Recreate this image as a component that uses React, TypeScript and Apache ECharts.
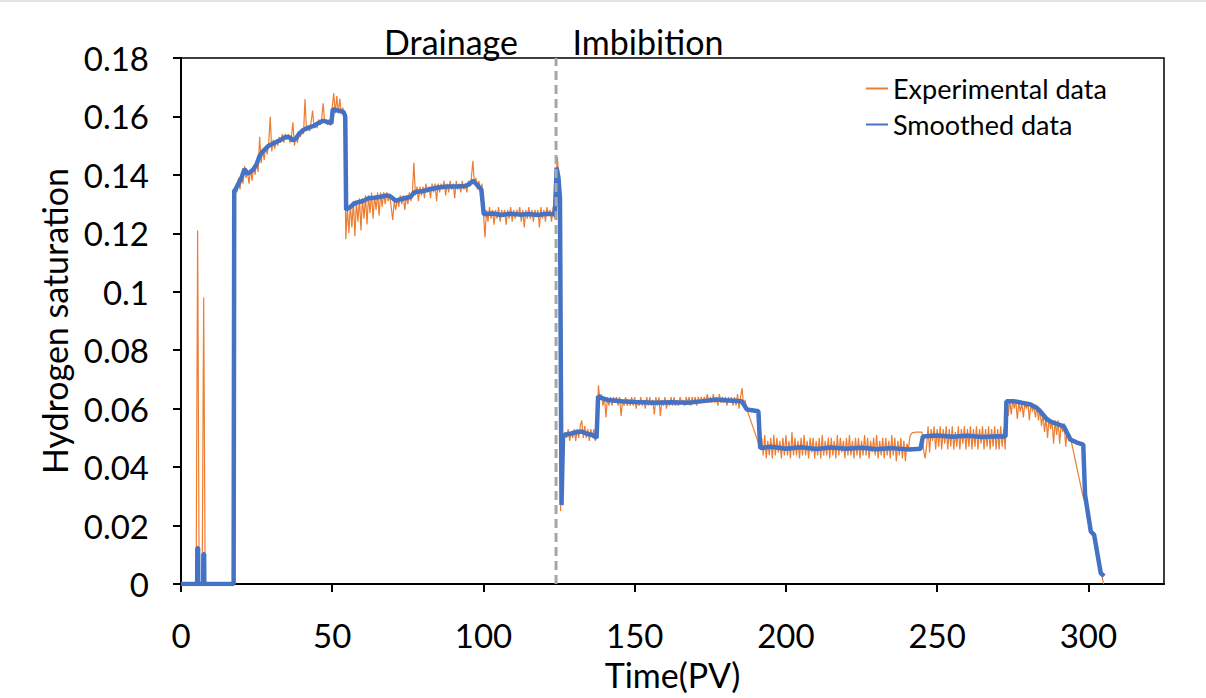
import React, { useEffect, useRef } from "react";
import * as echarts from "echarts";

// ---- Data (Time in PV, hydrogen saturation) ----
const X_STEP = 0.5; // sampling step of the experimental record (PV)
const xTicks = [0, 50, 100, 150, 200, 250, 300];
const yTicks = [0, 0.02, 0.04, 0.06, 0.08, 0.1, 0.12, 0.14, 0.16, 0.18];
const drainageEnd = 124;

// Experimental data, segment by segment: start time + samples every X_STEP
const expStart = 0;
const expStartValues = [0, 0, 0, 0, 0, 0, 0, 0, 0, 0, 0, 0.121, 0, 0, 0, 0.098, 0, 0, 0, 0, 0, 0, 0, 0, 0, 0, 0, 0, 0, 0, 0, 0, 0, 0, 0, 0];
const expDrainRiseStart = 18;
const expDrainRise = [
  0.136, 0.134, 0.139, 0.135, 0.14, 0.137, 0.143, 0.139, 0.141, 0.137,
  0.142, 0.138, 0.143, 0.14, 0.145, 0.141, 0.153, 0.144, 0.149, 0.145,
  0.15, 0.147, 0.151, 0.16, 0.148, 0.152, 0.149, 0.152, 0.15, 0.153,
  0.151, 0.154, 0.151, 0.154, 0.152, 0.154, 0.151, 0.153, 0.158, 0.15,
  0.153, 0.151, 0.155, 0.153, 0.156, 0.154, 0.166, 0.155, 0.157, 0.155,
  0.158, 0.162, 0.156, 0.158, 0.156, 0.159, 0.157, 0.159, 0.1645, 0.158,
  0.159, 0.157, 0.159, 0.157, 0.163, 0.168, 0.161, 0.167, 0.161, 0.166,
  0.161, 0.163, 0.16,
];
const expDrainMidStart = 54.5;
const expDrainMid = [
  0.118, 0.129, 0.12, 0.13, 0.122, 0.131, 0.119, 0.131, 0.124, 0.132,
  0.121, 0.132, 0.125, 0.133, 0.123, 0.133, 0.127, 0.134, 0.125, 0.133,
  0.128, 0.134, 0.126, 0.134, 0.129, 0.134, 0.13, 0.134, 0.131, 0.133,
  0.129, 0.1245, 0.131, 0.128, 0.132, 0.129, 0.133, 0.13, 0.133, 0.128,
  0.133, 0.13, 0.134, 0.131, 0.134, 0.1442, 0.133, 0.136, 0.131, 0.136,
  0.133, 0.136, 0.132, 0.137, 0.134, 0.136, 0.132, 0.137, 0.134, 0.137,
  0.131, 0.137, 0.134, 0.137, 0.135, 0.138, 0.133, 0.137, 0.134, 0.138,
  0.135, 0.137, 0.132, 0.138, 0.135, 0.137, 0.134, 0.138, 0.135, 0.137,
  0.134, 0.138, 0.136, 0.139, 0.1448, 0.137, 0.139, 0.135, 0.138, 0.134,
  0.137,
];
const expDrainLowStart = 100;
const expDrainLow = [
  0.127, 0.1186, 0.128, 0.124, 0.129, 0.125, 0.128, 0.123, 0.128, 0.125,
  0.129, 0.124, 0.128, 0.126, 0.128, 0.123, 0.128, 0.125, 0.129, 0.124,
  0.128, 0.125, 0.128, 0.126, 0.129, 0.124, 0.128, 0.122, 0.128, 0.125,
  0.129, 0.125, 0.128, 0.124, 0.128, 0.126, 0.128, 0.122, 0.129, 0.125,
  0.128, 0.124, 0.129, 0.126, 0.128, 0.124, 0.129, 0.125, 0.14, 0.146,
  0.134, 0.025, 0.05,
];
const expImbAStart = 126.5;
const expImbA = [
  0.049, 0.052, 0.05, 0.053, 0.049, 0.052, 0.05, 0.053, 0.049, 0.053,
  0.05, 0.054, 0.056, 0.05, 0.054, 0.05, 0.053, 0.049, 0.053, 0.05,
  0.053, 0.049, 0.051,
];
const expImbBStart = 138;
const expImbB = [
  0.068, 0.063, 0.065, 0.061, 0.064, 0.057, 0.064, 0.061, 0.064, 0.061,
  0.064, 0.062, 0.064, 0.061, 0.064, 0.0575, 0.063, 0.061, 0.064, 0.061,
  0.063, 0.061, 0.064, 0.061, 0.064, 0.06, 0.063, 0.061, 0.064, 0.061,
  0.063, 0.06, 0.064, 0.061, 0.064, 0.061, 0.063, 0.058, 0.064, 0.061,
  0.064, 0.0575, 0.063, 0.061, 0.064, 0.06, 0.063, 0.061, 0.064, 0.061,
  0.064, 0.061, 0.063, 0.061, 0.064, 0.062, 0.063, 0.061, 0.064, 0.062,
  0.064, 0.061, 0.064, 0.062, 0.064, 0.061, 0.064, 0.062, 0.064, 0.062,
  0.064, 0.062, 0.065, 0.062, 0.064, 0.062, 0.065, 0.062, 0.064, 0.061,
  0.065, 0.062, 0.064, 0.062, 0.064, 0.061, 0.064, 0.062, 0.064, 0.061,
  0.064, 0.061, 0.065, 0.06, 0.064, 0.067, 0.061, 0.063, 0.06,
];
const expImbCStart = 191.5;
const expImbC = [
  0.0465, 0.05, 0.044, 0.051, 0.043, 0.049, 0.044, 0.05, 0.043, 0.051,
  0.044, 0.05, 0.045, 0.049, 0.043, 0.05, 0.044, 0.051, 0.044, 0.049,
  0.043, 0.052, 0.044, 0.05, 0.044, 0.049, 0.043, 0.05, 0.044, 0.051,
  0.044, 0.049, 0.043, 0.05, 0.045, 0.05, 0.043, 0.049, 0.044, 0.05,
  0.043, 0.051, 0.044, 0.049, 0.044, 0.05, 0.043, 0.05, 0.044, 0.049,
  0.043, 0.051, 0.044, 0.05, 0.045, 0.049, 0.043, 0.05, 0.044, 0.051,
  0.044, 0.049, 0.043, 0.05, 0.044, 0.05, 0.043, 0.049, 0.044, 0.051,
  0.044, 0.05, 0.043, 0.049, 0.045, 0.05, 0.044, 0.051, 0.043, 0.049,
  0.044, 0.05, 0.043, 0.05, 0.044, 0.049, 0.043, 0.051, 0.044, 0.05,
  0.042, 0.049, 0.044, 0.05, 0.043, 0.049, 0.042, 0.048, 0.046,
];
const expArcStart = 241;
const expArc = [0.0505, 0.0515, 0.0518, 0.0519, 0.052, 0.052, 0.052, 0.052, 0.052];
const expImbDStart = 245.5;
const expImbD = [
  0.046, 0.043, 0.047, 0.054, 0.045, 0.053, 0.049, 0.054, 0.046, 0.053,
  0.047, 0.054, 0.046, 0.053, 0.048, 0.054, 0.046, 0.053, 0.047, 0.054,
  0.046, 0.052, 0.047, 0.054, 0.046, 0.053, 0.048, 0.054, 0.046, 0.053,
  0.047, 0.054, 0.046, 0.053, 0.047, 0.054, 0.046, 0.053, 0.048, 0.054,
  0.046, 0.053, 0.047, 0.054, 0.046, 0.053, 0.047, 0.054, 0.046, 0.053,
  0.046, 0.054, 0.047, 0.053, 0.046,
];
const expImbEStart = 273;
const expImbE = [
  0.063, 0.0575, 0.063, 0.058, 0.063, 0.06, 0.063, 0.0565, 0.062, 0.059,
  0.062, 0.057, 0.062, 0.06, 0.062, 0.056, 0.062, 0.059, 0.061, 0.057,
  0.061, 0.056, 0.06, 0.054, 0.058, 0.052, 0.057, 0.05, 0.057, 0.053,
  0.056, 0.048, 0.056, 0.051, 0.056, 0.048, 0.055, 0.052, 0.055, 0.047,
  0.053, 0.049, 0.051, 0.048,
];
const expTailStart = 298;
const expTail = [0.031, 0.029, 0.028, 0.024, 0.021, 0.018, 0.0175, 0.017, 0.016, 0.013, 0.009, 0.006, 0.004, 0.003, 0];

// Smoothed data: [time (PV), saturation]
const smoothed: [number, number][] = [
  [0, 0], [5.35, 0], [5.4, 0.0123], [5.65, 0.0123], [5.7, 0], [7.35, 0], [7.4, 0.0103], [7.65, 0.0103], [7.7, 0],
  [17.4, 0], [17.6, 0.1345], [18, 0.135], [19, 0.137], [20, 0.139], [21, 0.142], [22, 0.1405], [23, 0.141],
  [24, 0.142], [25, 0.1437], [26, 0.1465], [27, 0.148], [28, 0.149], [29, 0.15], [30, 0.1505], [31, 0.151],
  [32, 0.1515], [33, 0.152], [34, 0.1527], [35, 0.153], [36, 0.1528], [37, 0.1518], [38, 0.1525], [39, 0.154],
  [40, 0.155], [41, 0.1557], [42, 0.156], [43, 0.1565], [44, 0.1568], [45, 0.1575], [46, 0.158], [47, 0.1585],
  [48, 0.1582], [49, 0.158], [49.7, 0.1576], [50.2, 0.1625], [51, 0.1622], [52, 0.162], [53, 0.1618],
  [53.8, 0.1614], [54.3, 0.16], [54.6, 0.128], [55, 0.1285], [56, 0.129], [57, 0.13], [58, 0.1305], [60, 0.131],
  [62, 0.132], [64, 0.1322], [66, 0.1325], [68, 0.133], [69, 0.1328], [70, 0.132], [71, 0.1311], [72, 0.1315],
  [74, 0.132], [76, 0.1325], [77, 0.134], [78, 0.1342], [80, 0.1345], [82, 0.135], [85, 0.1357], [88, 0.136],
  [91, 0.136], [94, 0.1362], [95.5, 0.137], [96.6, 0.138], [97.5, 0.137], [99.3, 0.135], [100.1, 0.1265],
  [103, 0.1268], [106, 0.1263], [109, 0.1267], [112, 0.1264], [115, 0.1266], [118, 0.1263], [121, 0.1267],
  [123.6, 0.1265], [124.2, 0.1425], [124.8, 0.139], [125.3, 0.132], [125.8, 0.027], [126.3, 0.0505],
  [127, 0.0511], [129, 0.0515], [131, 0.052], [132.4, 0.0522], [134, 0.0515], [136, 0.051], [137.4, 0.05],
  [137.9, 0.0642], [139, 0.0637], [141, 0.063], [145.7, 0.0625], [150, 0.0623], [156.7, 0.062], [162, 0.0622],
  [167.7, 0.062], [172, 0.0625], [176.6, 0.0631], [181, 0.0628], [185.4, 0.0625], [187.1, 0.0597],
  [190.9, 0.0591], [191.5, 0.0465], [195, 0.047], [200, 0.0463], [205, 0.0468], [210, 0.0462], [215, 0.0467],
  [220, 0.0463], [225, 0.0466], [230, 0.0461], [235, 0.0465], [240.6, 0.046], [244.5, 0.0463], [245.3, 0.0505],
  [250, 0.0508], [255, 0.0504], [260, 0.0507], [265, 0.0503], [270, 0.0506], [272.6, 0.0505], [272.9, 0.0625],
  [275.6, 0.0625], [278, 0.062], [280.9, 0.0614], [283, 0.0602], [284.2, 0.059], [286.4, 0.0562],
  [288.6, 0.0551], [291.9, 0.0539], [294.1, 0.0494], [296, 0.0485], [298.3, 0.0477], [298.9, 0.0305],
  [300.8, 0.018], [301.9, 0.0168], [304.1, 0.0037], [305.2, 0.0027],
];

const expSegments: [number, number[]][] = [
  [expStart, expStartValues],
  [expDrainRiseStart, expDrainRise],
  [expDrainMidStart, expDrainMid],
  [expDrainLowStart, expDrainLow],
  [expImbAStart, expImbA],
  [expImbBStart, expImbB],
  [expImbCStart, expImbC],
  [expArcStart, expArc],
  [expImbDStart, expImbD],
  [expImbEStart, expImbE],
  [expTailStart, expTail],
];

const experimental: [number, number][] = [];
expSegments.forEach(([start, vals]) => {
  vals.forEach((v, i) => experimental.push([start + i * X_STEP, v]));
});

const FONT = "Lato, 'Open Sans', sans-serif";

export default function App() {
  const ref = useRef<HTMLDivElement>(null);
  useEffect(() => {
    const chart = echarts.init(ref.current!, null, { renderer: "svg" });
    chart.setOption({
      animation: false,
      backgroundColor: "#fff",
      textStyle: { fontFamily: FONT },
      grid: { left: 181, right: 42, top: 58, bottom: 114, show: true, borderColor: "#000", borderWidth: 1.5, containLabel: false },
      legend: {
        data: ["Experimental data", "Smoothed data"],
        orient: "vertical",
        left: 860,
        top: 70,
        itemWidth: 22,
        itemGap: 9,
        itemStyle: { opacity: 0 },
        textStyle: { fontSize: 27, color: "#000", fontFamily: FONT },
      },
      xAxis: {
        type: "value",
        min: 0,
        max: 325,
        interval: 50,
        name: "Time(PV)",
        nameLocation: "middle",
        nameGap: 73,
        nameTextStyle: { fontSize: 34, color: "#000", fontFamily: FONT },
        axisLine: { lineStyle: { color: "#000", width: 2 } },
        axisTick: { show: true, length: 8, lineStyle: { color: "#000", width: 2 }, customValues: xTicks },
        axisLabel: { fontSize: 33, color: "#000", margin: 34, fontFamily: FONT, customValues: xTicks },
        splitLine: { show: false },
      },
      yAxis: {
        type: "value",
        min: 0,
        max: 0.18,
        interval: 0.02,
        name: "Hydrogen saturation",
        nameLocation: "middle",
        nameGap: 110,
        nameTextStyle: { fontSize: 34, color: "#000", fontFamily: FONT },
        axisLine: { show: true, lineStyle: { color: "#000", width: 2 } },
        axisTick: { show: true, length: 8, lineStyle: { color: "#000", width: 2 }, customValues: yTicks },
        axisLabel: { fontSize: 33, color: "#000", margin: 32, fontFamily: FONT, customValues: yTicks },
        splitLine: { show: false },
      },
      graphic: [
        { type: "rect", shape: { x: 0, y: 0, width: 1206, height: 2 }, style: { fill: "#e4e4e4" } },
        { type: "text", x: 451, y: 41, style: { text: "Drainage", fontSize: 34, fontFamily: FONT, fill: "#000", align: "center", verticalAlign: "middle" } },
        { type: "text", x: 648, y: 41, style: { text: "Imbibition", fontSize: 34, fontFamily: FONT, fill: "#000", align: "center", verticalAlign: "middle" } },
      ],
      series: [
        {
          name: "Experimental data",
          type: "line",
          data: experimental,
          symbol: "none",
          silent: true,
          lineStyle: { color: "#ED7D31", width: 1.2 },
          itemStyle: { color: "#ED7D31" },
          z: 2,
        },
        {
          name: "Smoothed data",
          type: "line",
          data: smoothed,
          symbol: "none",
          silent: true,
          lineStyle: { color: "#4472C4", width: 4.5 },
          itemStyle: { color: "#4472C4" },
          z: 3,
        },
        {
          name: "boundary",
          type: "line",
          data: [[drainageEnd, 0], [drainageEnd, 0.18]],
          symbol: "none",
          silent: true,
          lineStyle: { color: "#A6A6A6", width: 3, type: [9, 5] },
          z: 4,
        },
      ],
    });
    return () => chart.dispose();
  }, []);
  return <div ref={ref} style={{ position: "fixed", left: 0, top: 0, width: 1206, height: 698, background: "#fff" }} />;
}
